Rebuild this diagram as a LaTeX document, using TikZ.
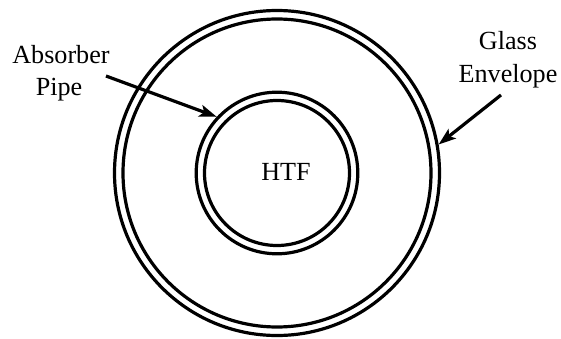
\documentclass[tikz,border=0pt]{standalone}
\usepackage{fontspec}
\setmainfont{Liberation Serif}
\usetikzlibrary{arrows.meta}
\begin{document}
\begin{tikzpicture}[x=0.75pt,y=-0.75pt,
  ring/.style={circle,draw,line width=2.4pt,inner sep=0pt},
  lbl/.style={font=\rmfamily\fontsize{19.6}{24}\selectfont,inner sep=0pt,anchor=base},
  pointer/.style={line width=2.4pt,-{Stealth[length=13pt,width=9pt,inset=3pt]}}]
\useasboundingbox (0,0) rectangle (561,339);
\coordinate (c) at (277,173);
% glass envelope
\node[ring,minimum size=325*0.75pt] (glassout) at (c) {};
\node[ring,minimum size=308*0.75pt] (glassin) at (c) {};
% absorber pipe
\node[ring,minimum size=161.6*0.75pt] (pipeout) at (c) {};
\node[ring,minimum size=145*0.75pt] (pipein) at (c) {};
% labels
\node[lbl] (htf) at (286,180) {HTF};
\node[lbl] (abs1) at (61,63) {Absorber};
\node[lbl] (abs2) at (59,95) {Pipe};
\node[lbl] (gl1) at (508,49) {Glass};
\node[lbl] (gl2) at (508,82) {Envelope};
% arrows
\coordinate (absstart) at (106,76);
\coordinate (glstart) at (501,95);
\draw[pointer] (absstart) -- (pipeout.137.5);
\draw[pointer] (glstart) -- (glassout.10);
\end{tikzpicture}
\end{document}
